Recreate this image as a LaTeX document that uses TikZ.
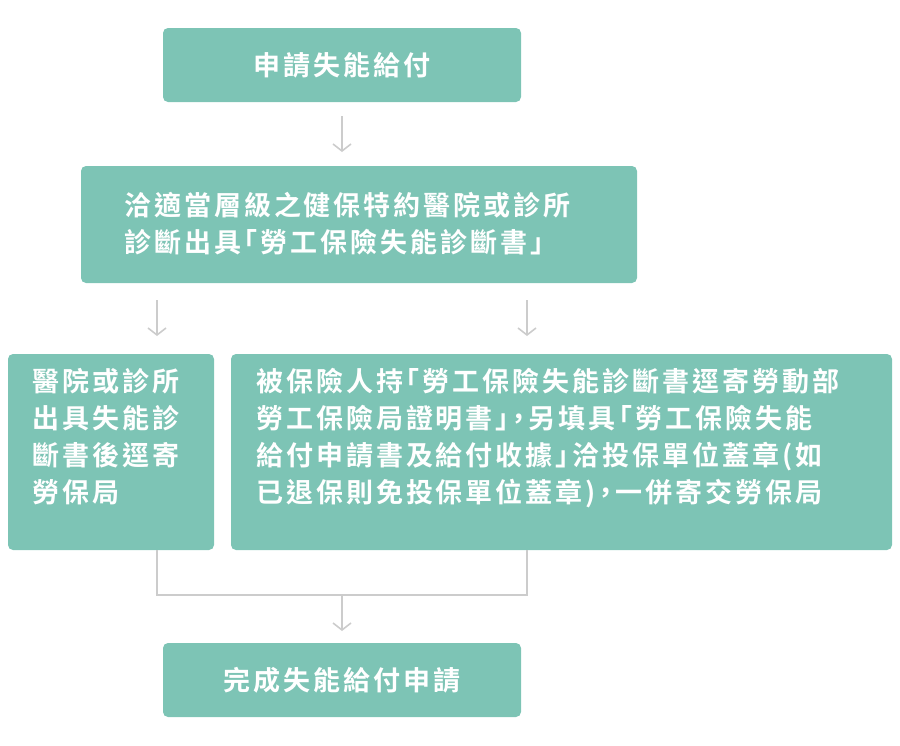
\documentclass[tikz,border=0pt]{standalone}
\usepackage{fontspec}
\setmainfont{Noto Sans CJK TC}[BoldFont={* Bold},LetterSpace=11,RawFeature=+halt]
\usetikzlibrary{arrows.meta}
\definecolor{teal1}{HTML}{7DC4B5}
\definecolor{grayl}{HTML}{CCCCCC}
\begin{document}
\begin{tikzpicture}[x=1pt,y=-1pt,
 box/.style={fill=teal1,rounded corners=5pt,draw=none},
 txt/.style={text=white,font=\bfseries\fontsize{27}{37}\selectfont,align=left,inner sep=0pt},
 arr/.style={grayl,line width=1.6pt,-{Straight Barb[length=7pt,width=18pt,line width=1.6pt]}},
 ln/.style={grayl,line width=1.6pt}]
\useasboundingbox (0,0) rectangle (900,745);
\filldraw[box] (163,28) rectangle (521,102);
\node[txt] (a) at (342,65) {申請失能給付};
\filldraw[box] (81,166) rectangle (637,283);
\node[txt,anchor=west] (b) at (124,224) {洽適當層級之健保特約醫院或診所\\診斷出具「勞工保險失能診斷書」};
\filldraw[box] (8,354) rectangle (214,550);
\node[txt,anchor=north west] (c) at (32,368) {醫院或診所\\出具失能診\\斷書後逕寄\\勞保局};
\filldraw[box] (231,354) rectangle (892,550);
\node[txt,anchor=north west] (d) at (256,368) {被保險人持「勞工保險失能診斷書逕寄勞動部\\勞工保險局證明書」，另填具「勞工保險失能\\給付申請書及給付收據」洽投保單位蓋章(如\\已退保則免投保單位蓋章)，一併寄交勞保局};
\filldraw[box] (163,643) rectangle (521,717);
\node[txt] (e) at (342,680) {完成失能給付申請};
\coordinate (a1) at (342,116); \coordinate (a2) at (342,152);
\draw[arr] (a1) -- (a2);
\coordinate (b1) at (157,300); \coordinate (b2) at (157,336);
\draw[arr] (b1) -- (b2);
\coordinate (c1) at (527,300); \coordinate (c2) at (527,336);
\draw[arr] (c1) -- (c2);
\coordinate (l1) at (157,550); \coordinate (l2) at (157,595);
\coordinate (r1) at (527,550); \coordinate (r2) at (527,595);
\draw[ln] (l1) -- (l2) -- (r2) -- (r1);
\coordinate (m1) at (342,595); \coordinate (m2) at (342,631);
\draw[arr] (m1) -- (m2);
\end{tikzpicture}
\end{document}
